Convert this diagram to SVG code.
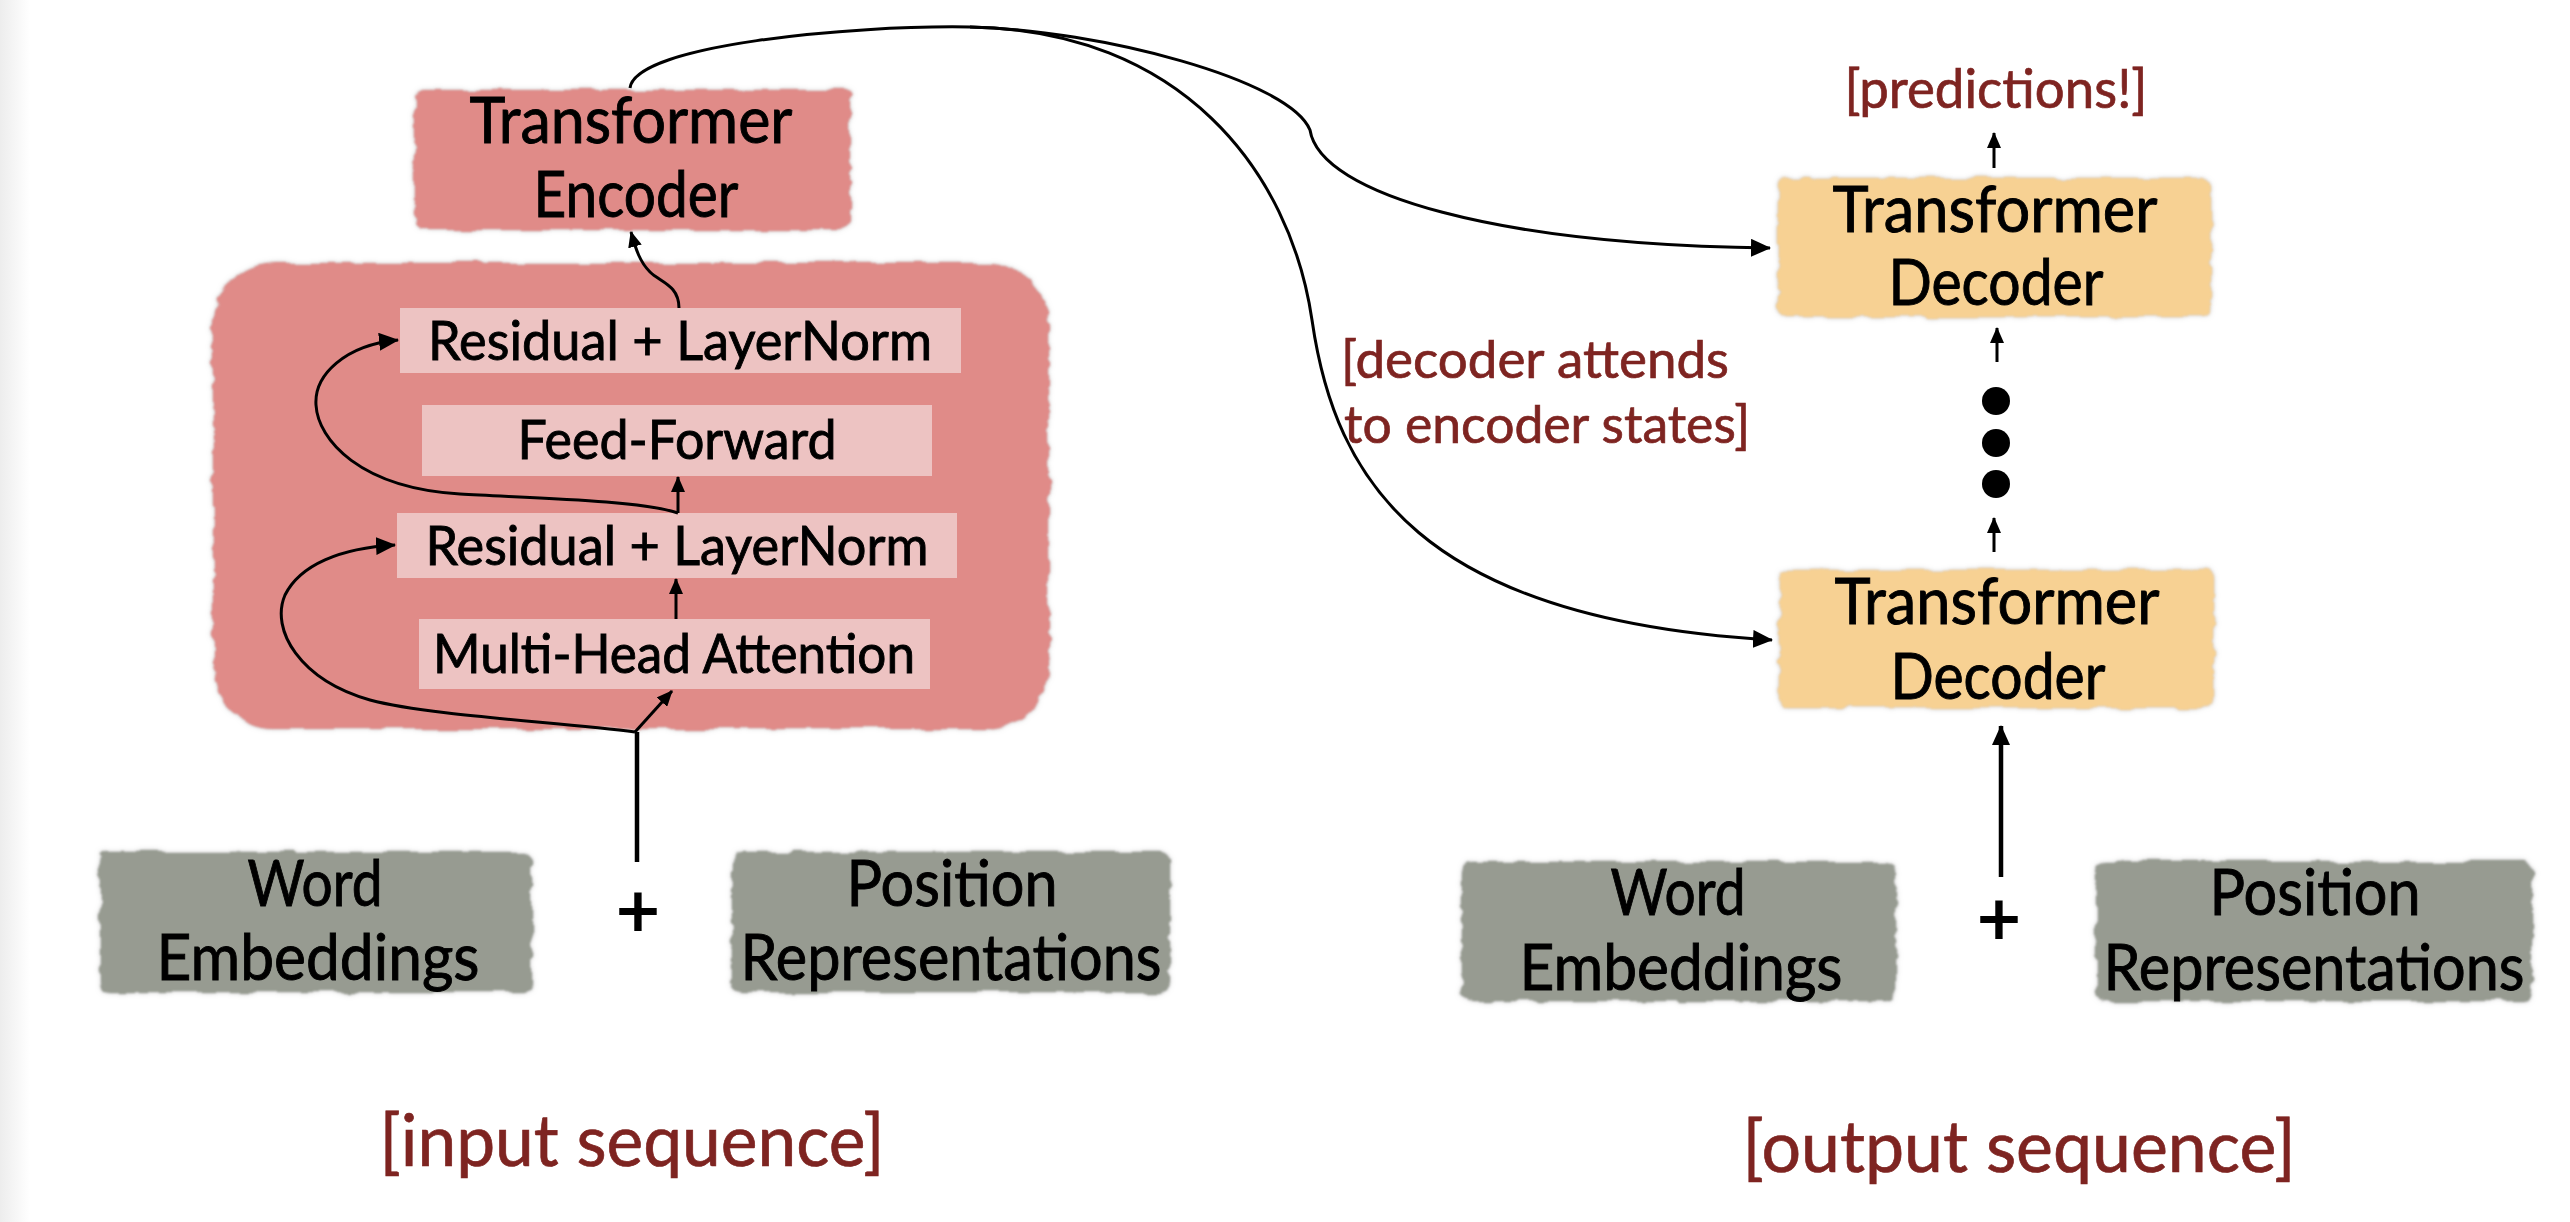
<svg xmlns="http://www.w3.org/2000/svg" width="2570" height="1222" viewBox="0 0 2570 1222">
<defs>
<style>
.t{font-family:Lato,"Open Sans","Liberation Sans",sans-serif;fill:#000;stroke:#000;stroke-width:0.9;text-anchor:middle}
.big{font-size:63px}
.mid{font-size:54px}
.red{font-family:Lato,"Open Sans","Liberation Sans",sans-serif;fill:#7E2421;stroke:#7E2421;stroke-width:0.7;text-anchor:middle}
.st{text-anchor:start}
.inner{fill:#EDC3C2}
.enc{fill:#E08B88}
.dec{fill:#F7D193}
.gray{fill:#979B91}
.ln{fill:none;stroke:#000;stroke-width:3}
.thick{fill:none;stroke:#000;stroke-width:4.5}
</style>
<linearGradient id="edge" x1="0" y1="0" x2="1" y2="0">
<stop offset="0" stop-color="#EDEDED"/><stop offset="1" stop-color="#FFFFFF"/>
</linearGradient>
<filter id="torn" x="-5%" y="-12%" width="110%" height="124%">
<feTurbulence type="fractalNoise" baseFrequency="0.035 0.09" numOctaves="2" seed="4" result="n"/>
<feDisplacementMap in="SourceGraphic" in2="n" scale="9" xChannelSelector="R" yChannelSelector="G" result="d"/>
<feGaussianBlur in="d" stdDeviation="2.5" result="b"/>
<feColorMatrix in="b" type="matrix" values="0 0 0 0 0.45  0 0 0 0 0.45  0 0 0 0 0.45  0 0 0 0.8 0" result="sh"/>
<feGaussianBlur in="d" stdDeviation="1" result="d2"/>
<feMerge><feMergeNode in="sh"/><feMergeNode in="d2"/></feMerge>
</filter>
<marker id="ah" viewBox="0 0 20 18" refX="19" refY="9" markerWidth="20" markerHeight="18" markerUnits="userSpaceOnUse" orient="auto"><path d="M0 0 L20 9 L0 18 z" fill="#000"/></marker>
<marker id="ahs" viewBox="0 0 16 14" refX="15" refY="7" markerWidth="16" markerHeight="14" markerUnits="userSpaceOnUse" orient="auto"><path d="M0 0 L16 7 L0 14 z" fill="#000"/></marker>
</defs>
<rect x="0" y="0" width="2570" height="1222" fill="#FFFFFF"/>
<rect x="0" y="0" width="30" height="1222" fill="url(#edge)"/>

<g id="encoder-layer">
<rect class="enc" x="213" y="263" width="836" height="466" rx="62" filter="url(#torn)"/>
</g>
<g id="residual-top">
<rect class="inner" x="400" y="308" width="561" height="65"/>
<text class="t mid" x="680" y="360" textLength="504" lengthAdjust="spacingAndGlyphs">Residual + LayerNorm</text>
</g>
<g id="feed-forward">
<rect class="inner" x="422" y="405" width="510" height="71"/>
<text class="t mid" x="677" y="459" textLength="319" lengthAdjust="spacingAndGlyphs">Feed-Forward</text>
</g>
<g id="residual-bottom">
<rect class="inner" x="397" y="513" width="560" height="65"/>
<text class="t mid" x="677" y="565" textLength="503" lengthAdjust="spacingAndGlyphs">Residual + LayerNorm</text>
</g>
<g id="multi-head-attention">
<rect class="inner" x="419" y="619" width="511" height="70"/>
<text class="t mid" x="674" y="673" textLength="482" lengthAdjust="spacingAndGlyphs">Multi-Head Attention</text>
</g>

<g id="transformer-encoder">
<rect class="enc" x="415" y="90" width="435" height="140" rx="8" filter="url(#torn)"/>
<text class="t big" x="631" y="143" textLength="323" lengthAdjust="spacingAndGlyphs">Transformer</text>
<text class="t big" x="636" y="217" textLength="205" lengthAdjust="spacingAndGlyphs">Encoder</text>
</g>

<g id="decoder-top">
<rect class="dec" x="1778" y="178" width="433" height="139" rx="8" filter="url(#torn)"/>
<text class="t big" x="1995" y="232" textLength="325" lengthAdjust="spacingAndGlyphs">Transformer</text>
<text class="t big" x="1996" y="305" textLength="215" lengthAdjust="spacingAndGlyphs">Decoder</text>
</g>
<g id="decoder-bottom">
<rect class="dec" x="1780" y="570" width="434" height="138" rx="8" filter="url(#torn)"/>
<text class="t big" x="1997" y="624" textLength="325" lengthAdjust="spacingAndGlyphs">Transformer</text>
<text class="t big" x="1998" y="699" textLength="215" lengthAdjust="spacingAndGlyphs">Decoder</text>
</g>

<g id="word-emb-left">
<rect class="gray" x="100" y="852" width="432" height="140" rx="10" filter="url(#torn)"/>
<text class="t big" x="315" y="906" textLength="135" lengthAdjust="spacingAndGlyphs">Word</text>
<text class="t big" x="318" y="980" textLength="323" lengthAdjust="spacingAndGlyphs">Embeddings</text>
</g>
<g id="pos-rep-left">
<rect class="gray" x="732" y="852" width="438" height="140" rx="10" filter="url(#torn)"/>
<text class="t big" x="952" y="906" textLength="211" lengthAdjust="spacingAndGlyphs">Position</text>
<text class="t big" x="951" y="980" textLength="421" lengthAdjust="spacingAndGlyphs">Representations</text>
</g>
<g id="word-emb-right">
<rect class="gray" x="1462" y="862" width="434" height="139" rx="10" filter="url(#torn)"/>
<text class="t big" x="1678" y="915" textLength="135" lengthAdjust="spacingAndGlyphs">Word</text>
<text class="t big" x="1681" y="990" textLength="323" lengthAdjust="spacingAndGlyphs">Embeddings</text>
</g>
<g id="pos-rep-right">
<rect class="gray" x="2096" y="862" width="436" height="139" rx="10" filter="url(#torn)"/>
<text class="t big" x="2315" y="915" textLength="211" lengthAdjust="spacingAndGlyphs">Position</text>
<text class="t big" x="2314" y="990" textLength="421" lengthAdjust="spacingAndGlyphs">Representations</text>
</g>

<g id="labels">
<text class="t" x="638" y="936" font-size="74" style="stroke-width:2">+</text>
<text class="t" x="1999" y="944" font-size="74" style="stroke-width:2">+</text>
<text class="red" x="1996" y="108" font-size="54" textLength="303" lengthAdjust="spacingAndGlyphs">[predictions!]</text>
<text class="red st" x="1341" y="378" font-size="52" textLength="388" lengthAdjust="spacingAndGlyphs">[decoder attends</text>
<text class="red st" x="1344" y="443" font-size="52" textLength="406" lengthAdjust="spacingAndGlyphs">to encoder states]</text>
<text class="red" x="632" y="1166" font-size="72" textLength="505" lengthAdjust="spacingAndGlyphs">[input sequence]</text>
<text class="red" x="2019" y="1172" font-size="72" textLength="553" lengthAdjust="spacingAndGlyphs">[output sequence]</text>
</g>

<g id="connectors">
<path class="thick" d="M637 862 L637 732"/>
<path class="ln" d="M635 732 L672 691" marker-end="url(#ahs)"/>
<path class="ln" d="M676 619 L676 579" marker-end="url(#ahs)"/>
<path class="ln" d="M678 513 L678 477" marker-end="url(#ahs)"/>
<path class="ln" d="M635 732 C560 722, 430 716, 370 700 C300 680, 270 630, 285 595 C300 565, 340 548, 395 545" marker-end="url(#ah)"/>
<path class="ln" d="M678 513 C640 500, 530 498, 460 494 C360 488, 318 440, 316 405 C314 375, 345 345, 398 340" marker-end="url(#ah)"/>
<path class="ln" d="M679 308 C679 285, 660 282, 650 272 C640 262, 636 250, 631 232" marker-end="url(#ahs)"/>
<path class="ln" d="M630 88 C635 45, 850 25, 970 27 C1100 30, 1290 80, 1310 130 C1320 195, 1500 245, 1770 248" marker-end="url(#ah)"/>
<path class="ln" d="M970 27 C1180 30, 1290 170, 1312 320 C1335 480, 1420 620, 1772 640" marker-end="url(#ah)"/>
<path class="thick" d="M2001 877 L2001 726" marker-end="url(#ah)"/>
<path class="ln" d="M1994 552 L1994 518" marker-end="url(#ahs)"/>
<path class="ln" d="M1997 362 L1997 328" marker-end="url(#ahs)"/>
<path class="ln" d="M1994 168 L1994 133" marker-end="url(#ahs)"/>
<circle cx="1996" cy="401" r="14" fill="#000"/>
<circle cx="1996" cy="443" r="14" fill="#000"/>
<circle cx="1996" cy="484" r="14" fill="#000"/>
</g>
</svg>
